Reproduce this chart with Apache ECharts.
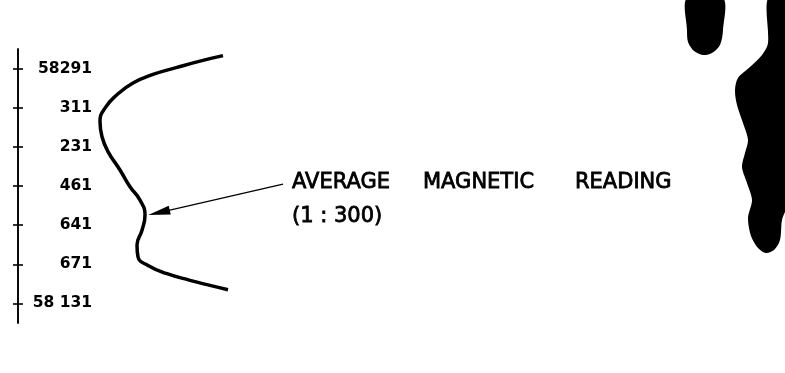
<!DOCTYPE html>
<html>
<head>
<meta charset="utf-8">
<script src="https://cdn.jsdelivr.net/npm/echarts@6.0.0/dist/echarts.min.js"></script>
<style>
  html, body { margin: 0; padding: 0; background: #fff; }
  #main { width: 785px; height: 373px; }
</style>
</head>
<body>
<div id="main"></div>
<script>
// station labels down the profile (tick at 0..6)
var stationLabels = ['58291', '311', '231', '461', '641', '671', '58 131'];
var stationTicks = [0, 1, 2, 3, 4, 5, 6];

// profile: position along the stations, reading (1:300)
var profilePos = [-0.33, -0.19, -0.03, 0.15, 0.37, 0.67, 1.01, 1.35, 1.74, 2.12, 2.59, 3.02, 3.36, 3.74, 4.13, 4.51, 4.81, 5.03, 5.24, 5.41, 5.54, 5.65];
var profileReading = [205, 182, 159, 135, 115, 99, 87, 82, 84, 90, 102, 112, 122, 127, 124, 119, 120, 130, 149, 172, 192, 210];

// pointer from the caption to the curve
var arrowFrom = [265, 2.95];
var arrowTo = [141, 3.68];

var profileData = profileReading.map(function (r, i) {
  return [r, profilePos[i]];
});

var chart = echarts.init(document.getElementById('main'), null, { renderer: 'canvas' });

var baseY = {
  type: 'value',
  inverse: true,
  min: -0.5,
  max: 6.5,
  position: 'left',
  axisLine: { show: true, lineStyle: { color: '#000', width: 1.6 } },
  splitLine: { show: false }
};

var captionFont = '21px "DejaVu Sans"';

var option = {
  backgroundColor: '#fff',
  animation: false,
  grid: { left: 18, top: 49, width: 300, height: 274 },
  xAxis: {
    type: 'value',
    min: 0,
    max: 300,
    show: false
  },
  yAxis: [
    Object.assign({}, baseY, {
      axisTick: { show: true, customValues: stationTicks, length: 5, lineStyle: { color: '#000', width: 1.6 } },
      axisLabel: {
        show: true,
        inside: true,
        margin: 74,
        align: 'right',
        customValues: stationTicks,
        color: '#000',
        fontFamily: 'DejaVu Sans',
        fontWeight: 'bold',
        fontSize: 15.5,
        formatter: function (v) { return stationLabels[Math.round(v)]; }
      }
    }),
    // second copy so the ticks cross the line
    Object.assign({}, baseY, {
      axisTick: { show: true, inside: true, customValues: stationTicks, length: 5, lineStyle: { color: '#000', width: 1.6 } },
      axisLabel: { show: false }
    })
  ],
  series: [{
    type: 'line',
    data: profileData,
    smooth: 0.5,
    showSymbol: false,
    silent: true,
    lineStyle: { color: '#000', width: 3.5 },
    markLine: {
      silent: true,
      symbol: ['none', 'triangle'],
      label: { show: false },
      lineStyle: { color: '#000', width: 1.2, type: 'solid' },
      data: [[
        { coord: arrowFrom, symbol: 'none' },
        { coord: arrowTo, symbol: 'triangle', symbolSize: [9, 22] }
      ]]
    }
  }],
  graphic: [
    { type: 'text', x: 292, y: 183, style: { text: 'AVERAGE', font: captionFont, fill: '#000', stroke: '#000', lineWidth: 0.8, verticalAlign: 'middle' } },
    { type: 'text', x: 423, y: 183, style: { text: 'MAGNETIC', font: captionFont, fill: '#000', stroke: '#000', lineWidth: 0.8, verticalAlign: 'middle' } },
    { type: 'text', x: 575, y: 183, style: { text: 'READING', font: captionFont, fill: '#000', stroke: '#000', lineWidth: 0.8, verticalAlign: 'middle' } },
    { type: 'text', x: 292, y: 217, style: { text: '(1 : 300)', font: captionFont, fill: '#000', stroke: '#000', lineWidth: 0.8, verticalAlign: 'middle' } },
    // ink blots along the right edge of the sheet
    {
      type: 'polygon', silent: true,
      shape: { smooth: 0.3, points: [[687, -2], [723, -2], [723, 30], [720, 45], [712, 53], [703, 55], [694, 51], [688, 42], [687, 30]] },
      style: { fill: '#000' }
    },
    {
      type: 'polygon', silent: true,
      shape: { smooth: 0.3, points: [[768, -2], [787, -2], [787, 205], [782, 220], [780, 240], [774, 250], [766, 253], [758, 248], [751, 236], [748, 218], [752, 200], [747, 183], [742, 167], [745, 153], [748, 140], [743, 123], [737, 105], [735, 90], [738, 78], [750, 67], [762, 55], [768, 43]] },
      style: { fill: '#000' }
    }
  ]
};

chart.setOption(option);
</script>
</body>
</html>
